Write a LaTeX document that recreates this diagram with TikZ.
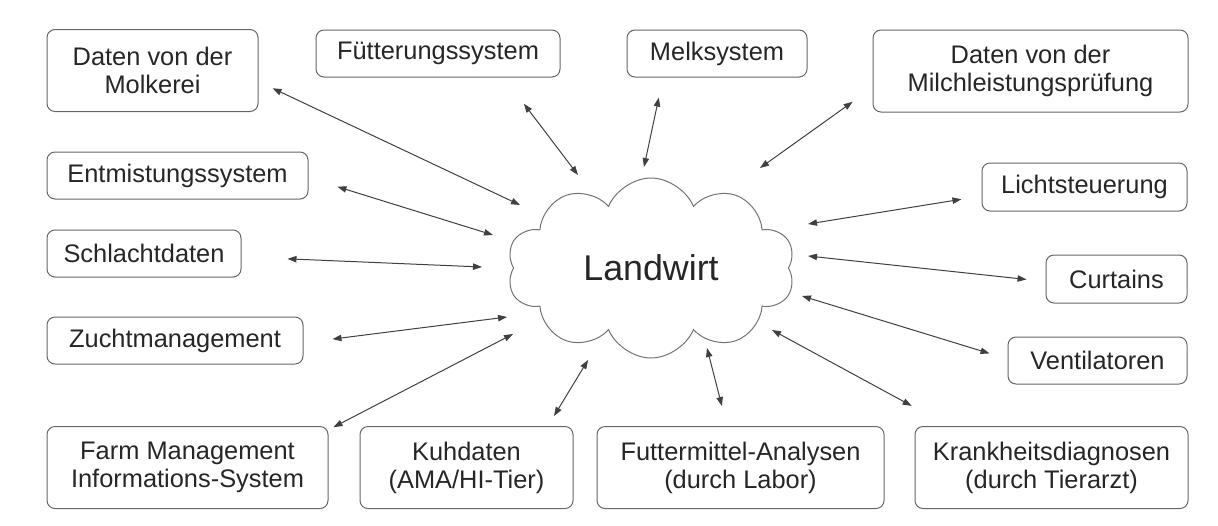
\documentclass[tikz,border=0pt]{standalone}
\usepackage{fontspec}
\setmainfont{Liberation Sans}
\usetikzlibrary{arrows.meta,shapes.symbols}

\begin{document}
\begin{tikzpicture}[
  x=0.5pt, y=-0.5pt, font=\fontsize{12.7}{14}\selectfont,
  box/.style={draw=black!60, rounded corners=4pt, line width=0.5pt, text=black!85,
              align=center, inner sep=2pt, minimum height=23.5pt, minimum width=#1},
  tall/.style={box=#1, minimum height=41pt},
  link/.style={{Triangle[length=4.5pt,width=3.2pt]}-{Triangle[length=4.5pt,width=3.2pt]},
               line width=0.5pt, draw=black!75},
]
\useasboundingbox (0,0) rectangle (1218,525);

% top row
\node[tall=105.5pt] (molk)  at (152.5,70.5) {Daten von der\\Molkerei};
\node[box=122pt]    (fuett) at (438,53.5)   {Fütterungssystem};
\node[box=90pt]     (melk)  at (717,53.5)   {Melksystem};
\node[tall=157.5pt] (milch) at (1030.5,71)  {Daten von der\\Milchleistungsprüfung};

% left column
\node[box=130.5pt] (entm)  at (177.5,175.5) {Entmistungssystem};
\node[box=97pt]    (schl)  at (144,253.5)   {Schlachtdaten};
\node[box=128pt]   (zucht) at (175,340.5)   {Zuchtmanagement};

% right column
\node[box=102.5pt, minimum height=24pt] (licht) at (1084.5,187)   {Lichtsteuerung};
\node[box=70.5pt, minimum height=24pt]  (curt)  at (1116.5,279)   {Curtains};
\node[box=89.5pt]                       (vent)  at (1097.5,360.5) {Ventilatoren};

% bottom row
\node[tall=140.5pt] (fmis)   at (187.5,467.5)  {Farm Management\\Informations-System};
\node[tall=106.5pt] (kuh)    at (466.5,467.5)  {Kuhdaten\\(AMA/HI-Tier)};
\node[tall=143.5pt] (futter) at (740.5,467.5)  {Futtermittel-Analysen\\(durch Labor)};
\node[tall=136.5pt] (krank)  at (1051.5,467.5) {Krankheitsdiagnosen\\(durch Tierarzt)};

% centre
\node[cloud, draw=black!55, line width=0.5pt, cloud puffs=10, cloud puff arc=135,
      aspect=1.6, minimum width=144pt, minimum height=90pt, text=black!85,
      font=\fontsize{17.9}{20}\selectfont] (wolke) at (651,268) {Landwirt};

% arrow ends next to the cloud
\foreach \n/\dx/\dy in {1/-131/-63, 2/-73/-93, 3/-7/-101, 4/109/-100, 5/-158/-33,
                        6/-169/-1, 7/-144/49, 8/-138/66, 9/-63/92, 10/56/80,
                        11/121/62, 12/151/28, 13/157/-12, 14/157/-44}
  \coordinate (q\n) at ([shift={(\dx,\dy)}]wolke.center);

\foreach \b/\a/\s/\n in {molk/-6/7.75/1, fuett/-20/16.45/2, melk/-156/10.25/3,
                         milch/-174/12.2/4, entm/-1/15.15/5, schl/-2/23/6,
                         zucht/-1/14.6/7, fmis/15/2.8/8, kuh/27/5.85/9,
                         futter/108/10.3/10, krank/158/21.1/11, vent/179/9.4/12,
                         curt/-178/9.55/13, licht/-175/10.15/14}
  \draw[link, shorten <=\s pt] (\b.\a) -- (q\n);
\end{tikzpicture}
\end{document}
